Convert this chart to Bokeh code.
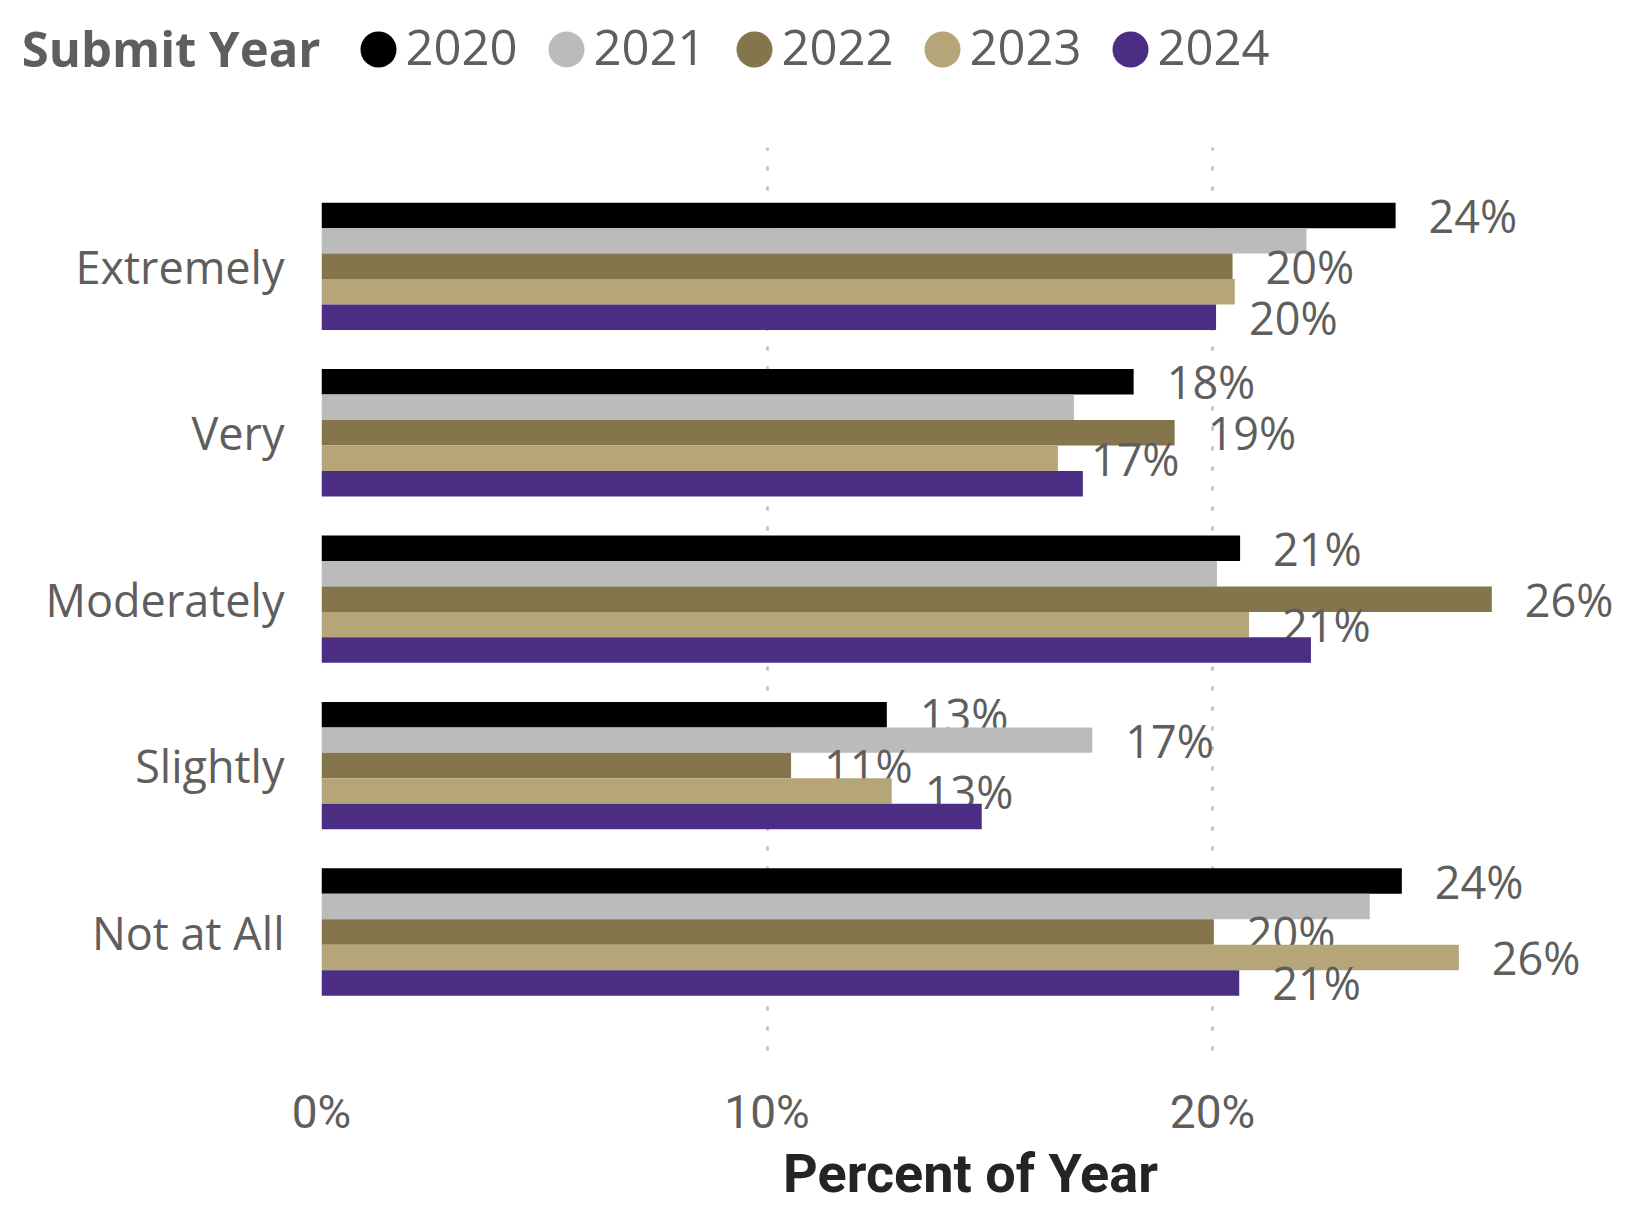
from bokeh.plotting import figure
from bokeh.models import Range1d, FixedTicker, ColumnDataSource
from bokeh.layouts import column
from bokeh.embed import file_html
from bokeh.resources import INLINE
from bokeh.core.properties import value

# ---------------- data ----------------
categories = ["Extremely", "Very", "Moderately", "Slightly", "Not at All"]
years = ["2020", "2021", "2022", "2023", "2024"]
colors = ["#000000", "#BBBBBB", "#85754D", "#B7A57A", "#4B2E83"]

pct_2020 = [24.11, 18.23, 20.62, 12.69, 24.25]
pct_2021 = [22.11, 16.89, 20.10, 17.30, 23.53]
pct_2022 = [20.45, 19.15, 26.27, 10.54, 20.03]
pct_2023 = [20.50, 16.53, 20.82, 12.80, 25.53]
pct_2024 = [20.08, 17.09, 22.21, 14.82, 20.60]

# data labels that are displayed in the original (others hidden by overlap)
shown_2020 = [True, True, True, True, True]
shown_2021 = [False, False, False, True, False]
shown_2022 = [True, True, True, True, True]
shown_2023 = [False, True, True, True, True]
shown_2024 = [True, False, False, False, True]

x_ticks = [0, 10, 20]
x_tick_labels = ["0%", "10%", "20%"]
legend_title = "Submit Year"
x_title = "Percent of Year"

series = [pct_2020, pct_2021, pct_2022, pct_2023, pct_2024]
shown = [shown_2020, shown_2021, shown_2022, shown_2023, shown_2024]

# ---------------- layout ----------------
W = 1640
TOTAL_H = 1211
LEG_H = 100
MAIN_H = TOTAL_H - LEG_H
B_LEFT, B_RIGHT = 321, 21
B_TOP = 47
B_BOTTOM = 145
frame_w = W - B_LEFT - B_RIGHT
X_MAX = frame_w / 44.55
Y_TOP, Y_BOTTOM = -0.714, 4.808
BAR_H = 0.153

GRAY = "#605E5C"
FONT = "Open Sans"

# ---------------- legend figure (x/y units = pixels) ----------------
lf = figure(width=W, height=LEG_H, x_range=Range1d(B_LEFT, W - B_RIGHT), y_range=Range1d(LEG_H, 0),
            output_backend="svg", toolbar_location=None,
            min_border_left=B_LEFT, min_border_right=B_RIGHT, min_border_top=0, min_border_bottom=0,
            x_axis_location=None, y_axis_location="left")
lf.outline_line_color = None
lf.xgrid.grid_line_color = None
lf.ygrid.grid_line_color = None
lf.background_fill_color = "white"
lf.border_fill_color = "white"
# legend title as the left tick label of the legend strip
lf.yaxis.ticker = FixedTicker(ticks=[47])
lf.yaxis.major_label_overrides = {47: legend_title}
lf.yaxis.axis_line_color = None
lf.yaxis.major_tick_line_color = None
lf.yaxis.minor_tick_line_color = None
lf.yaxis.major_label_text_font = FONT
lf.yaxis.major_label_text_font_style = "bold"
lf.yaxis.major_label_text_font_size = "49px"
lf.yaxis.major_label_text_color = GRAY
lf.yaxis.major_label_standoff = -5

leg_x = [378 + 188 * i for i in range(len(years))]
lf.scatter(x=leg_x, y=[49] * len(years), size=36, marker="circle", color=colors, line_color=None)
lf.text(x=[x + 27 for x in leg_x], y=[47] * len(years), text=years, text_font=value(FONT),
        text_font_size="49px", text_color=GRAY, text_baseline="middle", text_align="left")

# ---------------- main figure ----------------
p = figure(width=W, height=MAIN_H, x_range=Range1d(0, X_MAX), y_range=Range1d(Y_BOTTOM, Y_TOP),
           output_backend="svg", toolbar_location=None,
           min_border_left=B_LEFT, min_border_right=B_RIGHT,
           min_border_top=B_TOP, min_border_bottom=B_BOTTOM)
p.outline_line_color = None
p.background_fill_color = "white"
p.border_fill_color = "white"

for i, (yr, vals, col, shw) in enumerate(zip(years, series, colors, shown)):
    off = (i - 2) * BAR_H
    ys = [k + off for k in range(len(categories))]
    src = ColumnDataSource(dict(y=ys, right=vals))
    p.hbar(y="y", left=0, right="right", height=BAR_H, source=src, color=col, line_color=None)
    lx = [v for v, s in zip(vals, shw) if s]
    ly = [y for y, s in zip(ys, shw) if s]
    lt = [f"{int(v + 0.5)}%" for v, s in zip(vals, shw) if s]
    p.text(x=lx, y=ly, text=lt, x_offset=33, text_baseline="middle", text_align="left",
           text_font=value(FONT), text_font_size="45px", text_color=GRAY)

# x axis
p.xaxis.ticker = FixedTicker(ticks=x_ticks)
p.xaxis.major_label_overrides = {t: l for t, l in zip(x_ticks, x_tick_labels)}
p.xaxis.axis_line_color = None
p.xaxis.major_tick_line_color = None
p.xaxis.minor_tick_line_color = None
p.xaxis.major_label_text_font = "Roboto"
p.xaxis.major_label_text_font_size = "46px"
p.xaxis.major_label_text_color = GRAY
p.xaxis.major_label_standoff = 12
p.xaxis.axis_label = x_title
p.xaxis.axis_label_standoff = 0
p.xaxis.axis_label_text_font = "Roboto"
p.xaxis.axis_label_text_font_style = "bold"
p.xaxis.axis_label_text_font_size = "54px"
p.xaxis.axis_label_text_color = "#252423"

# y axis
p.yaxis.ticker = FixedTicker(ticks=list(range(len(categories))))
p.yaxis.major_label_overrides = {i: c for i, c in enumerate(categories)}
p.yaxis.axis_line_color = None
p.yaxis.major_tick_line_color = None
p.yaxis.minor_tick_line_color = None
p.yaxis.major_label_text_font = FONT
p.yaxis.major_label_text_font_size = "45px"
p.yaxis.major_label_text_color = GRAY
p.yaxis.major_label_standoff = 31

# grid
p.xgrid.grid_line_color = "#C8C6C4"
p.xgrid.grid_line_dash = "2 18"
p.xgrid.grid_line_width = 3
p.xgrid.grid_line_cap = "round"
p.ygrid.grid_line_color = None

layout = column(lf, p)
open("out.html", "w").write(file_html(layout, INLINE))
